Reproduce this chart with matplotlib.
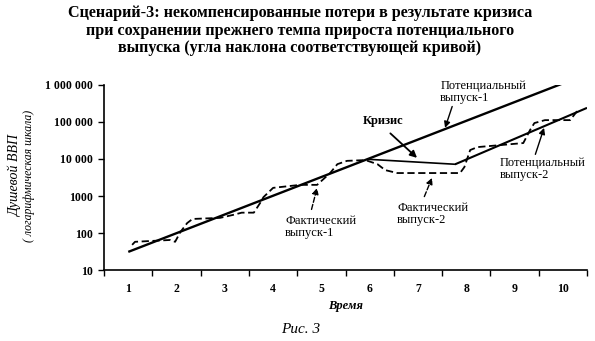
import numpy as np
import matplotlib.pyplot as plt

plt.rcParams['font.family'] = ['Liberation Serif', 'DejaVu Serif']

# time axis: categories 1..10
periods = [1, 2, 3, 4, 5, 6, 7, 8, 9, 10]
ytick_vals = [10, 100, 1000, 10000, 100000, 1000000]
ytick_labels = ['10', '100', '1000', '10 000', '100 000', '1 000 000']

# potential output before the crisis (trend 1)
pot1_x = [1.0, 10.0]
pot1_y = [31, 1.1e6]
# the crisis segment
crisis_x = [5.97, 7.77]
crisis_y = [9800, 7200]
# potential output after the crisis (trend 2, same growth rate)
pot2_x = [7.77, 10.5]
pot2_y = [7200, 240000]

# actual output (dashed)
act_x = [1.08, 1.14, 1.87, 1.97, 2.08, 2.22, 2.33, 2.90, 3.17, 3.35, 3.60, 3.73, 3.80,
         4.00, 4.56, 4.91, 5.18, 5.33, 5.53, 5.91, 6.16, 6.32, 6.57, 7.87, 7.96, 8.08,
         8.23, 9.18, 9.32, 9.41, 9.63, 10.15, 10.30]
act_y = [48, 58, 65, 58, 107, 186, 240, 257, 309, 355, 355, 646, 933,
         1660, 2000, 2000, 4170, 7240, 8900, 9330, 7240, 5010, 4170, 4170, 6030, 17400,
         20900, 26900, 60300, 93300, 112000, 112000, 200000]

fig = plt.figure(figsize=(5.95, 3.41), dpi=100)
ax = fig.add_axes([0.175, 0.208, 0.8116, 0.543])

ax.plot(pot1_x, pot1_y, color='black', lw=1.7, solid_capstyle='butt')
ax.plot(crisis_x, crisis_y, color='black', lw=1.2)
ax.plot(pot2_x, pot2_y, color='black', lw=1.5, solid_capstyle='butt')
ax.plot(act_x, act_y, color='black', lw=1.3, ls=(0, (4, 2)))

ax.set_yscale('log')
ax.set_ylim(10, 1e6)
ax.set_xlim(0.5, 10.5)
ax.set_yticks(ytick_vals)
ax.set_yticklabels(ytick_labels, fontweight='bold', fontsize=8.5)
ax.minorticks_off()
ax.set_xticks([p + 0.5 for p in [0] + periods])
ax.set_xticklabels([])
ax.set_xticks(periods, minor=True)
ax.set_xticklabels([str(p) for p in periods], minor=True, fontweight='bold', fontsize=8.5)
ax.tick_params(axis='x', which='minor', length=0, pad=9)
ax.tick_params(axis='both', which='major', length=4, width=1, direction='out')
ax.tick_params(axis='y', pad=4)
for s in ['top', 'right']:
    ax.spines[s].set_visible(False)
for s in ['left', 'bottom']:
    ax.spines[s].set_linewidth(1.2)

ax.set_xlabel('Время', fontstyle='italic', fontweight='bold', fontsize=9, labelpad=4)
fig.text(0.025, 0.485, 'Душевой ВВП', rotation=90, fontstyle='italic', fontsize=10,
         ha='center', va='center')
fig.text(0.048, 0.485, '( логарифмическая шкала)', rotation=90, fontstyle='italic', fontsize=8.5,
         ha='center', va='center')

fig.text(0.504, 0.985, 'Сценарий-3: некомпенсированные потери в результате кризиса\n'
         'при сохранении прежнего темпа прироста потенциального\n'
         'выпуска (угла наклона соответствующей кривой)',
         ha='center', va='top', fontweight='bold', fontsize=11.6, linespacing=1.12)
fig.text(0.505, 0.035, 'Рис. 3', ha='center', va='center', fontstyle='italic', fontsize=11)

ann = dict(fontsize=9, ha='left', va='top', linespacing=1.0, annotation_clip=False)
ax.annotate('Потенциальный\nвыпуск-1', xy=(7.56, 10**4.84), xytext=(7.46, 10**6.14),
            arrowprops=dict(arrowstyle='-|>', color='black', lw=1, mutation_scale=9,
                            shrinkA=0, shrinkB=0, relpos=(0.15, 0)), **ann)
ax.annotate('Потенциальный\nвыпуск-2', xy=(9.61, 10**4.84), xytext=(8.70, 10**4.05),
            arrowprops=dict(arrowstyle='-|>', color='black', lw=1, mutation_scale=9,
                            shrinkA=0, shrinkB=0, relpos=(0.4, 1)), **ann)
ax.annotate('Фактический\nвыпуск-1', xy=(4.91, 10**3.22), xytext=(4.25, 10**2.49),
            arrowprops=dict(arrowstyle='-|>', color='black', lw=1, mutation_scale=9, ls='--',
                            shrinkA=2, shrinkB=0, relpos=(0.35, 1)), **ann)
ax.annotate('Фактический\nвыпуск-2', xy=(7.29, 10**3.49), xytext=(6.57, 10**2.84),
            arrowprops=dict(arrowstyle='-|>', color='black', lw=1, mutation_scale=9, ls='--',
                            shrinkA=2, shrinkB=0, relpos=(0.35, 1)), **ann)
ax.annotate('Кризис', xy=(6.98, 10**4.03), xytext=(6.28, 10**5.03), fontsize=9,
            fontweight='bold', ha='center', va='center',
            arrowprops=dict(arrowstyle='-|>', color='black', lw=1.3, mutation_scale=10,
                            shrinkA=4, shrinkB=0, relpos=(0.5, 0)))

fig.savefig('out.png', dpi=100)
